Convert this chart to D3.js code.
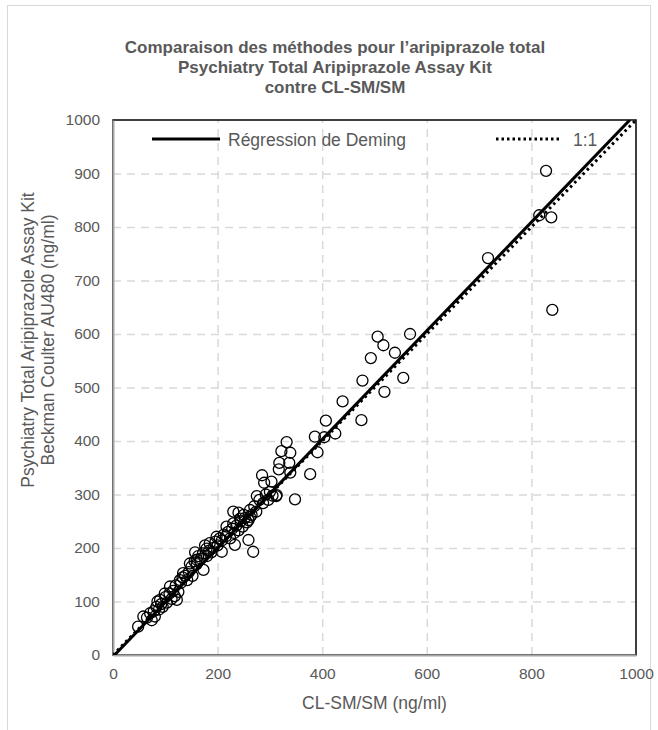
<!DOCTYPE html>
<html>
<head>
<meta charset="utf-8">
<script src="https://cdn.jsdelivr.net/npm/d3@7"></script>
<style>
  body { margin: 0; background: #fff; }
  text { font-family: "Liberation Sans", Arial, sans-serif; fill: #595959; }
</style>
</head>
<body>
<script>
// data (ng/ml)
const cmsX = [828, 815, 838, 840, 717,
  568, 506, 517, 539, 493, 555, 477, 519, 439, 407, 475, 425, 404, 386, 391,
  377, 348, 332, 339, 322, 337, 318, 317, 339, 285, 289, 303, 275, 312, 297,
  287, 262, 274, 250, 230, 240, 243, 259, 217,
  259, 268, 233, 208, 157, 173, 122, 48, 58, 74, 83, 313, 230, 262, 198, 185,
  179, 160, 147, 134, 128, 109, 99, 90, 71,
  65, 78, 80, 85, 88, 92, 95, 100, 103, 108, 112, 115, 118, 120, 125, 130,
  133, 138, 142, 145, 150, 152, 156, 160, 163, 168, 172, 176, 180, 184, 188,
  192, 196, 200, 204, 208, 212, 216, 220, 224, 228, 232, 236, 240, 244, 248,
  252, 256, 265, 270, 280, 292, 300, 305];
const au480Y = [905, 822, 818, 645, 742,
  600, 595, 579, 565, 555, 518, 513, 492, 474, 438, 439, 414, 407, 408, 379,
  338, 291, 398, 378, 381, 359, 359, 347, 341, 336, 322, 324, 297, 297, 290,
  284, 271, 268, 262, 268, 266, 255, 252, 240,
  215, 193, 206, 193, 192, 159, 103, 53, 72, 65, 90, 299, 246, 258, 221, 209,
  199, 178, 171, 153, 140, 128, 115, 103, 78,
  70, 82, 72, 100, 85, 95, 90, 108, 98, 115, 105, 120, 110, 130, 118, 135,
  145, 148, 140, 155, 165, 148, 175, 170, 185, 180, 190, 205, 185, 195, 192,
  200, 212, 205, 218, 214, 225, 222, 230, 218, 236, 228, 242, 233, 250, 240,
  256, 248, 262, 278, 290, 300, 305, 298];

const xTicks = [0, 200, 400, 600, 800, 1000];
const yTicks = [0, 100, 200, 300, 400, 500, 600, 700, 800, 900, 1000];

const titleLines = ["Comparaison des méthodes pour l’aripiprazole total",
  "Psychiatry Total Aripiprazole Assay Kit",
  "contre CL-SM/SM"];
const yTitleLines = ["Psychiatry Total  Aripiprazole  Assay Kit",
  "Beckman Coulter AU480  (ng/ml)"];
const xTitle = "CL-SM/SM (ng/ml)";

// Deming fit and identity line
const deming = {slope: 1.015, intercept: -3};

const W = 658, H = 730;
const margin = {top: 120, left: 113, bottom: 75, right: 22};
const width = W - margin.left - margin.right;
const height = H - margin.top - margin.bottom;

const svg = d3.select("body").append("svg")
  .attr("width", W).attr("height", H);

// chart frame
svg.append("rect")
  .attr("x", 7.5).attr("y", 5.5)
  .attr("width", 643).attr("height", 740)
  .attr("fill", "none").attr("stroke", "#d9d9d9");

const g = svg.append("g")
  .attr("transform", "translate(" + margin.left + "," + margin.top + ")");

const x = d3.scaleLinear().domain([0, 1000]).range([0, width]);
const y = d3.scaleLinear().domain([0, 1000]).range([height, 0]);

// gridlines
g.append("g")
  .attr("class", "grid")
  .attr("transform", "translate(0," + height + ")")
  .call(d3.axisBottom(x).tickValues(xTicks.slice(1, -1)).tickSize(-height).tickFormat(""))
  .call(s => s.select(".domain").remove());
g.append("g")
  .attr("class", "grid")
  .call(d3.axisLeft(y).tickValues(yTicks.slice(1, -1)).tickSize(-width).tickFormat(""))
  .call(s => s.select(".domain").remove());
g.selectAll(".grid line")
  .attr("stroke", "#d9d9d9")
  .attr("stroke-width", 1.5)
  .attr("stroke-dasharray", "8,6");

// plot border
g.append("rect")
  .attr("width", width).attr("height", height)
  .attr("fill", "none").attr("stroke", "#000").attr("stroke-width", 1.5);

// axes
const fmt = d3.format("d");
const xAxis = g.append("g")
  .attr("transform", "translate(0," + height + ")")
  .call(d3.axisBottom(x).tickValues(xTicks).tickFormat(fmt).tickSize(0).tickPadding(13));
const yAxis = g.append("g")
  .call(d3.axisLeft(y).tickValues(yTicks).tickFormat(fmt).tickSize(0).tickPadding(13));
[xAxis, yAxis].forEach(a => {
  a.select(".domain").attr("stroke", "#a6a6a6").attr("stroke-width", 2);
  a.selectAll("text")
    .style("font-family", "Liberation Sans, Arial, sans-serif")
    .style("font-size", "15.5px")
    .attr("fill", "#595959");
});

// clip for lines
g.append("clipPath").attr("id", "plot-clip")
  .append("rect").attr("width", width).attr("height", height);

const line = d3.line().x(d => x(d[0])).y(d => y(d[1]));

// markers
g.append("g")
  .selectAll("circle")
  .data(cmsX.map((v, i) => [v, au480Y[i]]))
  .enter()
  .append("circle")
    .attr("cx", d => x(d[0]))
    .attr("cy", d => y(d[1]))
    .attr("r", 5.5)
    .attr("fill", "none")
    .attr("stroke", "#000")
    .attr("stroke-width", 1.3);

// 1:1 line
g.append("path")
  .attr("clip-path", "url(#plot-clip)")
  .attr("d", line([[0, 0], [1000, 1000]]))
  .attr("fill", "none").attr("stroke", "#000")
  .attr("stroke-width", 3).attr("stroke-dasharray", "2.5,3.5");

// Deming regression line
const xEnd = (1000 - deming.intercept) / deming.slope;
g.append("path")
  .attr("clip-path", "url(#plot-clip)")
  .attr("d", line([[0, deming.intercept], [xEnd, 1000]]))
  .attr("fill", "none").attr("stroke", "#000").attr("stroke-width", 3);

// legend
const legend = svg.append("g").attr("class", "legend");
legend.append("line")
  .attr("x1", 152).attr("x2", 220).attr("y1", 139).attr("y2", 139)
  .attr("stroke", "#000").attr("stroke-width", 3);
legend.append("text")
  .attr("x", 228).attr("y", 145.5)
  .style("font-size", "17.5px")
  .text("Régression de Deming");
legend.append("line")
  .attr("x1", 496).attr("x2", 562).attr("y1", 139).attr("y2", 139)
  .attr("stroke", "#000").attr("stroke-width", 3).attr("stroke-dasharray", "2.5,3");
legend.append("text")
  .attr("x", 573).attr("y", 145.5)
  .style("font-size", "17.5px")
  .text("1:1");

// title
svg.append("text")
  .attr("text-anchor", "middle")
  .style("font-size", "17px")
  .style("font-weight", "bold")
  .selectAll("tspan")
  .data(titleLines)
  .enter()
  .append("tspan")
    .attr("x", 335)
    .attr("y", (d, i) => 53 + i * 20)
    .text(d => d);

// axis titles
svg.append("text")
  .attr("x", margin.left + width / 2)
  .attr("y", 709)
  .attr("text-anchor", "middle")
  .style("font-size", "17.5px")
  .text(xTitle);

svg.append("text")
  .attr("transform", "translate(0,340) rotate(-90)")
  .attr("text-anchor", "middle")
  .style("font-size", "17.5px")
  .selectAll("tspan")
  .data(yTitleLines)
  .enter()
  .append("tspan")
    .attr("x", 0)
    .attr("y", (d, i) => 34 + i * 20)
    .text(d => d);
</script>
</body>
</html>
